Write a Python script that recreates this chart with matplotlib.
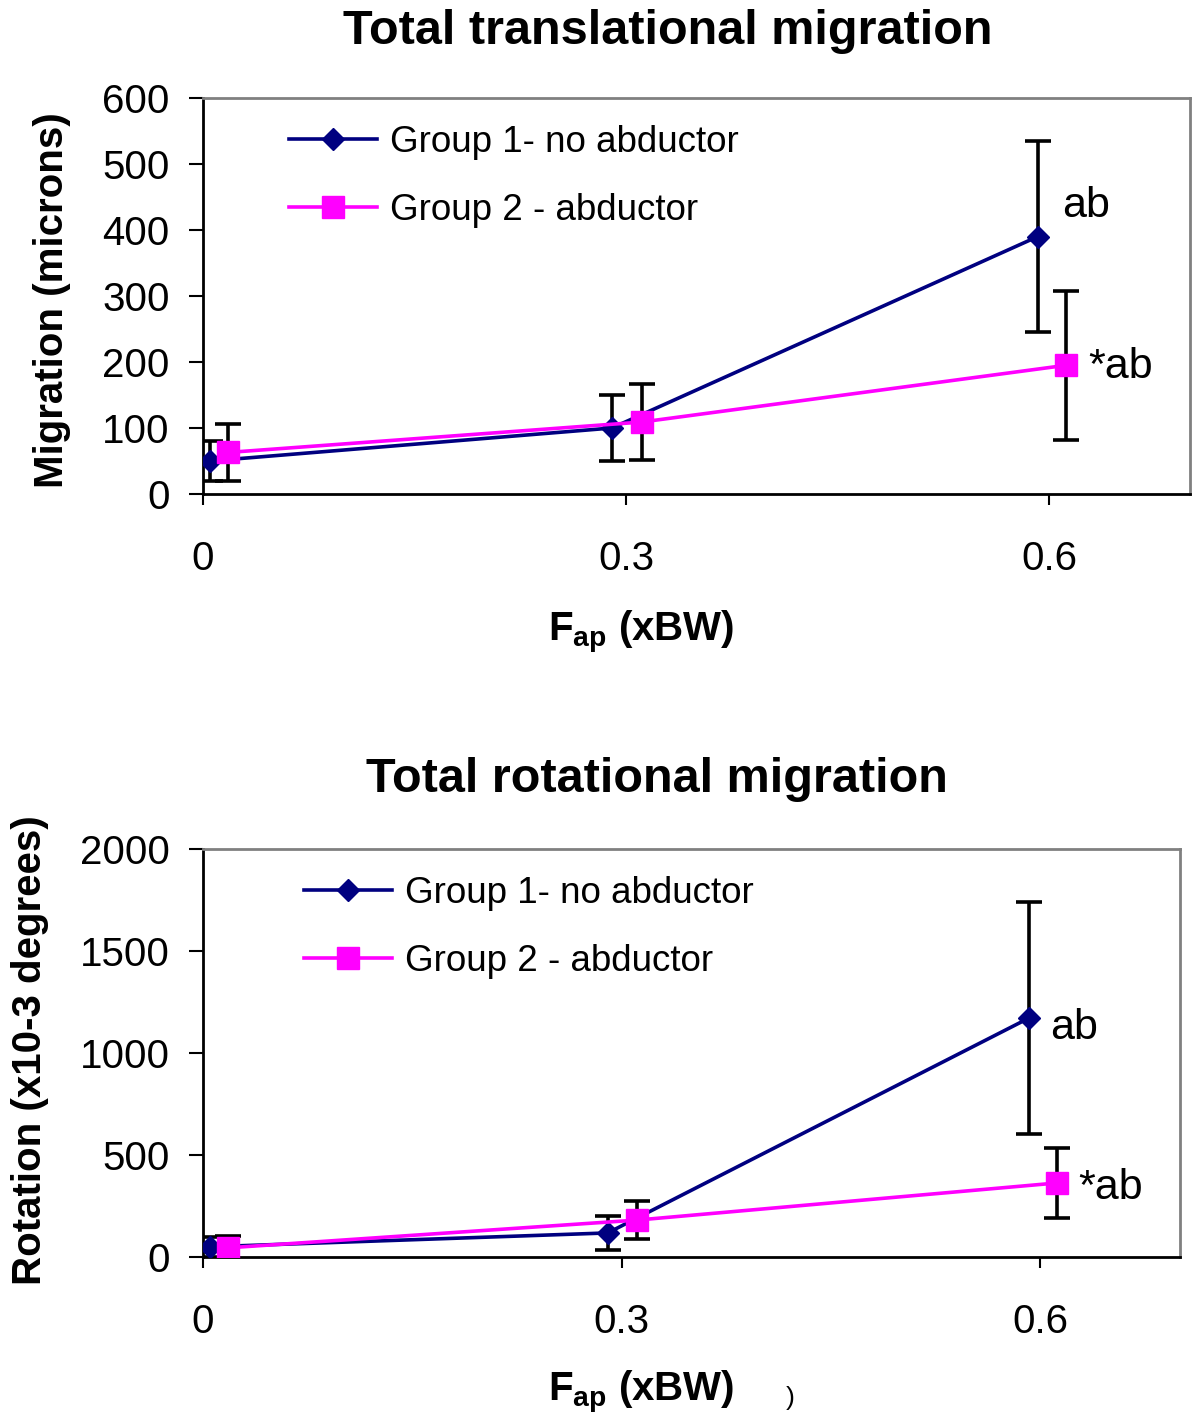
import matplotlib
matplotlib.use("Agg")
import matplotlib.pyplot as plt

plt.rcParams['font.family'] = ['Liberation Sans', 'DejaVu Sans']
plt.rcParams['mathtext.fontset'] = 'custom'
plt.rcParams['mathtext.rm'] = 'Liberation Sans'
plt.rcParams['mathtext.bf'] = 'Liberation Sans:bold'
plt.rcParams['mathtext.it'] = 'Liberation Sans:italic'

# ---- data ----
labels = ["Group 1- no abductor", "Group 2 - abductor"]
xticks = [0, 0.3, 0.6]
xtick_labels = ["0", "0.3", "0.6"]
x_g1 = [0.005, 0.29, 0.592]
x_g2 = [0.018, 0.311, 0.612]

# translational migration (microns)
trans_g1 = [50, 100, 390]
trans_g1_err = [30, 50, 145]
trans_g2 = [63, 109, 195]
trans_g2_err = [43, 58, 113]
trans_yticks = [0, 100, 200, 300, 400, 500, 600]

# rotational migration (x10-3 degrees)
rot_g1 = [50, 118, 1172]
rot_g1_err = [50, 85, 570]
rot_g2 = [45, 181, 363]
rot_g2_err = [60, 93, 170]
rot_yticks = [0, 500, 1000, 1500, 2000]

colors = ["#000080", "#FF00FF"]
W, H = 1193, 1420
fig = plt.figure(figsize=(W / 100, H / 100), dpi=100)


def fx(px):
    return px / W


def fy(py):
    return 1 - py / H


def panel(rect, g1, e1, g2, e2, yticks, ylim, xmax, leg_anchor, ann):
    ax = fig.add_axes(rect)
    ax.errorbar(x_g1, g1, yerr=e1, fmt='none', ecolor='black', elinewidth=2.6,
                capsize=9.5, capthick=2.6, zorder=2)
    ax.errorbar(x_g2, g2, yerr=e2, fmt='none', ecolor='black', elinewidth=2.6,
                capsize=9.5, capthick=2.6, zorder=2)
    ax.plot(x_g1, g1, color=colors[0], lw=2.6, marker='D', ms=11.5,
            mfc=colors[0], mec=colors[0], label=labels[0], zorder=3)
    ax.plot(x_g2, g2, color=colors[1], lw=2.6, marker='s', ms=15.5,
            mfc=colors[1], mec=colors[1], label=labels[1], zorder=4)
    ax.set_xlim(0, xmax)
    ax.set_ylim(*ylim)
    ax.set_xticks(xticks)
    ax.set_xticklabels(xtick_labels)
    ax.set_yticks(yticks)
    ax.tick_params(axis='y', direction='out', length=10, width=1.5, pad=14,
                   labelsize=29)
    ax.tick_params(axis='x', direction='out', length=8, width=1.5, pad=25,
                   labelsize=29)
    for s in ['left', 'bottom']:
        ax.spines[s].set_color('black')
        ax.spines[s].set_linewidth(2)
    for s in ['top', 'right']:
        ax.spines[s].set_color('#808080')
        ax.spines[s].set_linewidth(2)
    ax.legend(loc='upper left', bbox_to_anchor=leg_anchor, frameon=False,
              fontsize=26.5, handlelength=2.4, handletextpad=0.35,
              labelspacing=0.9, borderaxespad=0)
    for (tx, ty, s) in ann:
        ax.text(tx, ty, s, fontsize=31, va='center', ha='left')
    return ax


# top panel
ax1 = panel([fx(203), fy(494), fx(1190 - 203), (494 - 98) / H],
            trans_g1, trans_g1_err, trans_g2, trans_g2_err,
            trans_yticks, (0, 600), 0.70, (0.072, 0.97),
            [(0.609, 436, "ab"), (0.628, 192, "*ab")])

# bottom panel
ax2 = panel([fx(203), fy(1257), fx(1180 - 203), (1257 - 849) / H],
            rot_g1, rot_g1_err, rot_g2, rot_g2_err,
            rot_yticks, (0, 2000), 0.70, (0.088, 0.97),
            [(0.607, 1122, "ab"), (0.627, 340, "*ab")])

# titles
fig.text(fx(668), fy(31), "Total translational migration", fontsize=35,
         fontweight='bold', ha='center', va='center')
fig.text(fx(657), fy(779), "Total rotational migration", fontsize=35,
         fontweight='bold', ha='center', va='center')

# y labels
fig.text(fx(52), fy(300), "Migration (microns)", fontsize=29,
         fontweight='bold', rotation=90, ha='center', va='center')
fig.text(fx(30), fy(1050), "Rotation (x10-3 degrees)", fontsize=29,
         fontweight='bold', rotation=90, ha='center', va='center')

# x labels
xl = r"$\mathbf{F}_{\mathbf{ap}}$ (xBW)"
fig.text(fx(641), fy(632), xl, fontsize=29, fontweight='bold',
         ha='center', va='center')
fig.text(fx(641), fy(1392), xl, fontsize=29, fontweight='bold',
         ha='center', va='center')
fig.text(fx(790), fy(1398), ")", fontsize=19, ha='center', va='center')

fig.savefig("out.png", dpi=100)
